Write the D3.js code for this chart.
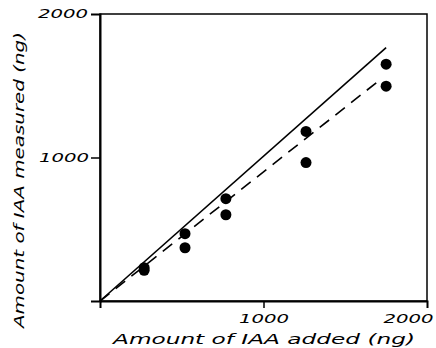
<!DOCTYPE html>
<html>
<head>
<meta charset="utf-8">
<script src="https://cdn.jsdelivr.net/npm/d3@7"></script>
<style>
  html, body { margin: 0; padding: 0; background: #fff; }
  svg { display: block; }
  text { font-family: "DejaVu Sans", sans-serif; font-style: italic; fill: #000; }
</style>
</head>
<body>
<svg id="chart" width="436" height="348"></svg>
<script>
// IAA recovery: amount added vs amount measured (ng)
const added    = [270, 270, 520, 520, 770, 770, 1260, 1260, 1750, 1750];
const measured = [232, 214, 469, 371, 713, 601, 1182, 965, 1650, 1497];

// Reference lines: solid = full recovery, dashed = fitted recovery
const solidLine  = [[0, 0], [1750, 1765]];
const dashedLine = [[0, 0], [1700, 1530]];

const xTicks = [1000, 2000];
const yTicks = [1000, 2000];
const xTitle = "Amount of IAA added (ng)";
const yTitle = "Amount of IAA measured (ng)";

const W = 436, H = 348;
const margin = { top: 14, right: 9, bottom: 47, left: 100 };
const iw = W - margin.left - margin.right;
const ih = H - margin.top - margin.bottom;

const svg = d3.select("#chart");
const g = svg.append("g").attr("transform", `translate(${margin.left},${margin.top})`);

const x = d3.scaleLinear().domain([0, 2000]).range([0, iw]);
const y = d3.scaleLinear().domain([0, 2000]).range([ih, 0]);

// Frame
g.append("rect")
  .attr("x", 0).attr("y", 0).attr("width", iw).attr("height", ih)
  .attr("fill", "none").attr("stroke", "#000").attr("stroke-width", 1.5);

// Axes
const xAxis = g.append("g")
  .attr("transform", `translate(0,${ih})`)
  .call(d3.axisBottom(x).tickValues(xTicks).tickSize(7).tickPadding(6).tickFormat(d3.format("d")));
const yAxis = g.append("g")
  .call(d3.axisLeft(y).tickValues(yTicks).tickSize(9).tickPadding(1).tickFormat(d3.format("d")));

[xAxis, yAxis].forEach(ax => {
  ax.select(".domain").attr("stroke", "#000").attr("stroke-width", 2);
  ax.selectAll(".tick line").attr("stroke", "#000").attr("stroke-width", 1.5);
  ax.selectAll(".tick line").filter(d => d === 2000).remove();
  ax.selectAll(".tick text")
    .attr("font-size", 12)
    .attr("textLength", 50)
    .attr("lengthAdjust", "spacingAndGlyphs");
});
xAxis.selectAll(".tick text").filter(d => d === 2000)
  .attr("text-anchor", "end").attr("dx", 6);
yAxis.selectAll(".tick text").filter(d => d === 2000)
  .attr("dx", -2);
yAxis.selectAll(".tick text").filter(d => d === 1000)
  .attr("dx", -1);

// Lines
const line = d3.line().x(d => x(d[0])).y(d => y(d[1]));
g.append("path").datum(solidLine)
  .attr("d", line).attr("fill", "none").attr("stroke", "#000").attr("stroke-width", 1.6);
g.append("path").datum(dashedLine)
  .attr("d", line).attr("fill", "none").attr("stroke", "#000").attr("stroke-width", 1.6)
  .attr("stroke-dasharray", "12,8");

// Data points
g.selectAll("circle.pt")
  .data(d3.range(added.length))
  .join("circle")
  .attr("class", "pt")
  .attr("cx", i => x(added[i]))
  .attr("cy", i => y(measured[i]))
  .attr("r", 5.5)
  .attr("fill", "#000");

// Axis titles
svg.append("text")
  .attr("x", 113).attr("y", 344)
  .attr("font-size", 13.5)
  .attr("textLength", 302)
  .attr("lengthAdjust", "spacingAndGlyphs")
  .text(xTitle);

svg.append("text")
  .attr("transform", "translate(24,328) rotate(-90)")
  .attr("font-size", 13.5)
  .attr("textLength", 296)
  .attr("lengthAdjust", "spacingAndGlyphs")
  .text(yTitle);
</script>
</body>
</html>
